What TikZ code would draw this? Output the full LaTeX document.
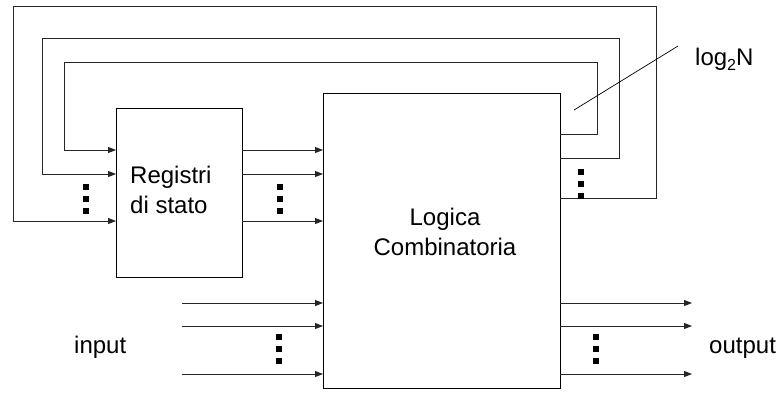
\documentclass[tikz,border=0pt]{standalone}
\usepackage{fontspec}
\setmainfont{Liberation Sans}
\usetikzlibrary{arrows.meta}
\begin{document}
\begin{tikzpicture}[x=1pt,y=-1pt,
  wire/.style={line width=0.9pt,draw=black!85},
  arr/.style={wire,-{Triangle[length=8pt,width=6pt]}},
  blockbox/.style={draw=black,line width=0.9pt,inner sep=0pt},
  lbl/.style={font=\fontsize{24}{29}\selectfont,inner sep=0pt,anchor=base},
  dotsq/.style={fill=black,minimum size=6pt,inner sep=0pt}]
\useasboundingbox (0,0) rectangle (781,392);
% blocks
\node[blockbox,minimum width=126pt,minimum height=169pt] (R) at (179,193) {};
\node[blockbox,minimum width=237pt,minimum height=295pt] (L) at (441.5,240.5) {};
% texts
\node[lbl,anchor=base west] (t1) at (130,183) {Registri};
\node[lbl,anchor=base west] (t2) at (130,213) {di stato};
\node[lbl] (t3) at (445,225) {Logica};
\node[lbl] (t4) at (445,255) {Combinatoria};
\node[lbl,anchor=base west] (tin) at (74,353) {input};
\node[lbl,anchor=base west] (tout) at (709,353) {output};
\node[lbl,anchor=base west] (tlog) at (695,65) {log\raisebox{-5pt}{\fontsize{16}{16}\selectfont 2}N};
% coordinates on the blocks
\coordinate (ri1) at (116,150); \coordinate (ri2) at (116,174); \coordinate (ri3) at (116,221);
\coordinate (ro1) at (242,150); \coordinate (ro2) at (242,174); \coordinate (ro3) at (242,221);
\coordinate (li1) at (323,150); \coordinate (li2) at (323,174); \coordinate (li3) at (323,221);
\coordinate (lo1) at (560,134); \coordinate (lo2) at (560,158); \coordinate (lo3) at (560,198);
\coordinate (lx1) at (323,303); \coordinate (lx2) at (323,326); \coordinate (lx3) at (323,374);
\coordinate (sx1) at (182,303); \coordinate (sx2) at (182,326); \coordinate (sx3) at (182,374);
\coordinate (ly1) at (560,303); \coordinate (ly2) at (560,326); \coordinate (ly3) at (560,374);
\coordinate (ey1) at (692,303); \coordinate (ey2) at (692,326); \coordinate (ey3) at (692,374);
% feedback loops
\draw[arr] (lo1) -- (597,134) -- (597,62) -- (64,62) |- (ri1);
\draw[arr] (lo2) -- (619,158) -- (619,38) -- (42,38) |- (ri2);
\draw[arr] (lo3) -- (656,198) -- (656,6) -- (13,6) |- (ri3);
% registri -> logica
\draw[arr] (ro1) -- (li1);
\draw[arr] (ro2) -- (li2);
\draw[arr] (ro3) -- (li3);
% inputs / outputs
\draw[arr] (sx1) -- (lx1);
\draw[arr] (sx2) -- (lx2);
\draw[arr] (sx3) -- (lx3);
\draw[arr] (ly1) -- (ey1);
\draw[arr] (ly2) -- (ey2);
\draw[arr] (ly3) -- (ey3);
% log2N pointer
\coordinate (pA) at (574,110);
\coordinate (pB) at (678,46);
\draw[line width=0.7pt] (pA) -- (pB);
% dots
\foreach \x/\y in {86/187,86/199,86/211, 280/187,280/199,280/211,
                   581/172,581/184,581/196, 279/337,279/349,279/361,
                   596/337,596/349,596/361}
  \node[dotsq] at (\x,\y) {};
\end{tikzpicture}
\end{document}
